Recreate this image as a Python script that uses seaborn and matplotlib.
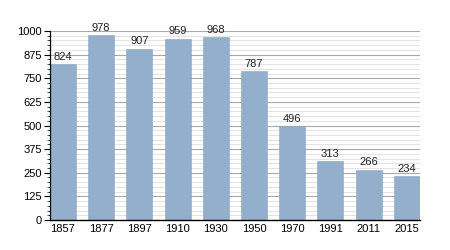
import matplotlib
matplotlib.use("Agg")
import matplotlib.pyplot as plt
import seaborn as sns
import pandas as pd
from matplotlib.ticker import MultipleLocator

years = ["1857", "1877", "1897", "1910", "1930", "1950", "1970", "1991", "2011", "2015"]
population = [824, 978, 907, 959, 968, 787, 496, 313, 266, 234]
yticks = [0, 125, 250, 375, 500, 625, 750, 875, 1000]

df = pd.DataFrame({"year": years, "pop": population})

sns.set_theme(style="white")
plt.rcParams['font.family'] = ['Liberation Sans', 'DejaVu Sans']

fig = plt.figure(figsize=(4.5, 2.5), dpi=100)
ax = fig.add_axes([0.111, 0.12, 0.822, 0.756])

ax.yaxis.set_minor_locator(MultipleLocator(25))
ax.grid(which="major", axis="y", color="#a8a8a8", linewidth=0.8)
ax.grid(which="minor", axis="y", color="#dedede", linewidth=0.6)
ax.set_axisbelow(True)

sns.barplot(data=df, x="year", y="pop", color="#94afcb", saturation=1, width=0.68, ax=ax,
            edgecolor="#8aa5c2", linewidth=0.4)

for i, v in enumerate(population):
    ax.text(i, v + 12, str(v), ha="center", va="bottom", fontsize=8, color="#222222")

ax.set_ylim(0, 1000)
ax.set_xlim(-0.34, 9.34)
ax.set_yticks(yticks)
ax.set_yticklabels([str(t) for t in yticks])
ax.set_xlabel("")
ax.set_ylabel("")
for s in ["top", "right"]:
    ax.spines[s].set_visible(False)
ax.spines["left"].set_color("black")
ax.spines["bottom"].set_color("black")
ax.spines["left"].set_linewidth(0.9)
ax.spines["bottom"].set_linewidth(1.0)
ax.tick_params(axis="y", which="major", length=4, width=0.8, left=True, labelsize=8, pad=2, colors="black")
ax.tick_params(axis="y", which="minor", length=2, width=0.6, left=True)
ax.tick_params(axis="x", length=0, labelsize=8, pad=3, colors="black")

fig.savefig("out.png", dpi=100)
